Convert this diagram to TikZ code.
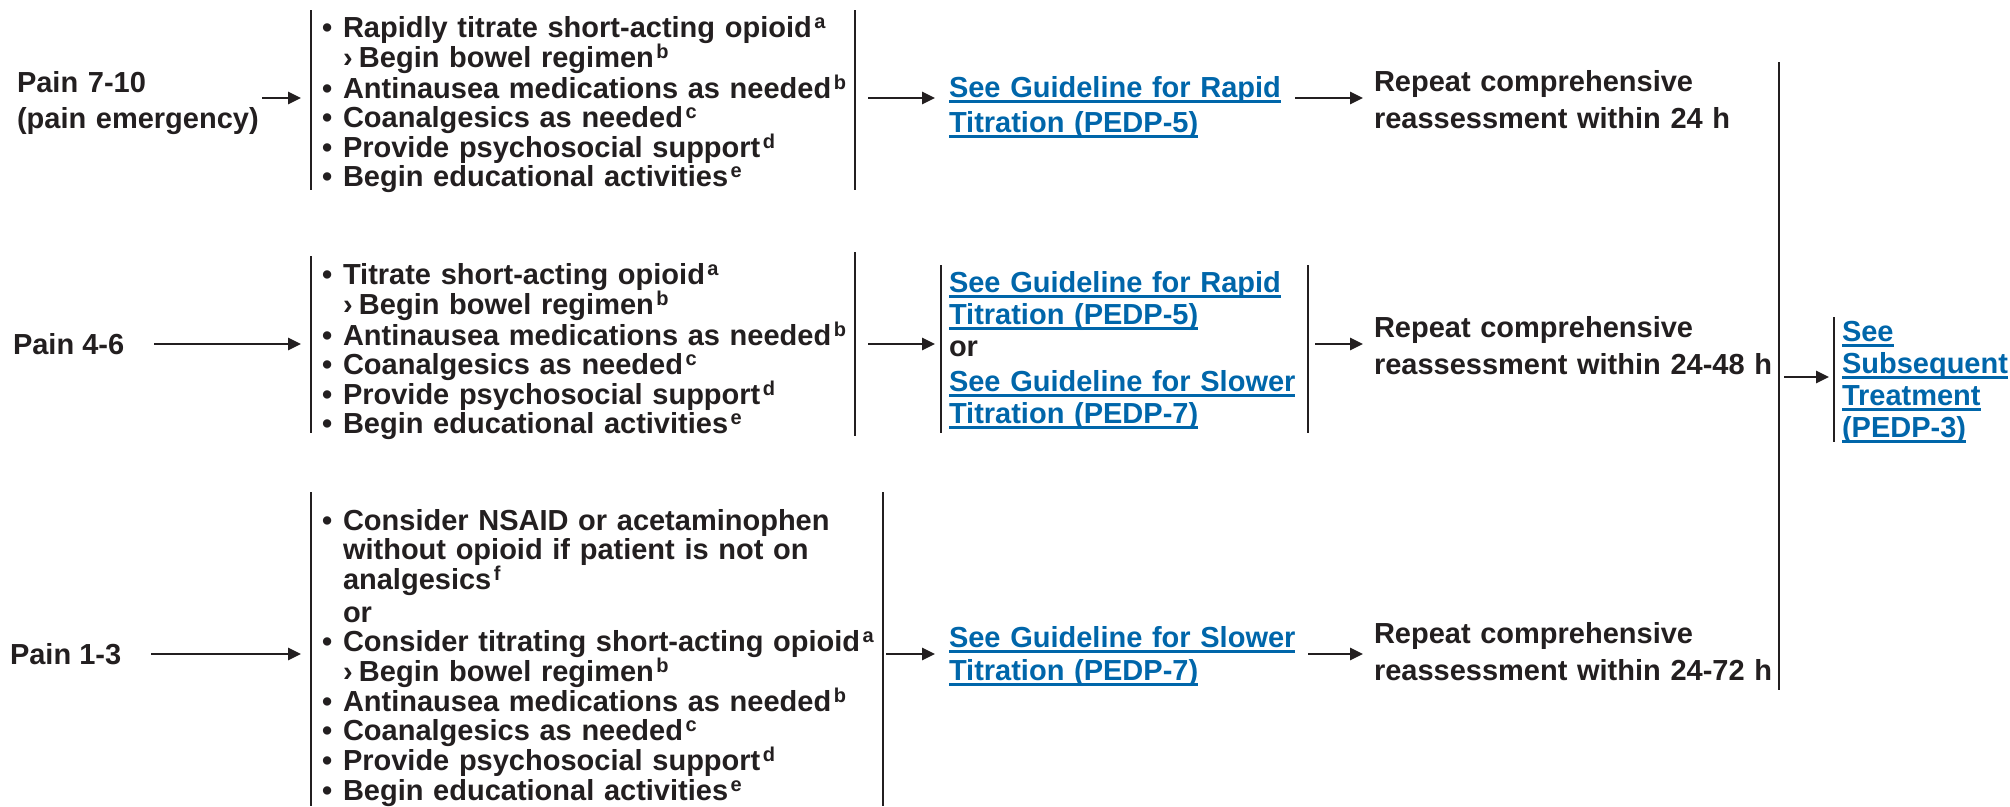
\documentclass[tikz,border=0pt]{standalone}
\usepackage{fontspec}
\setmainfont{Liberation Sans}
\usetikzlibrary{arrows.meta}
\definecolor{txt}{HTML}{231F20}
\definecolor{lnkc}{HTML}{0066AA}
\setlength\lineskiplimit{-100pt}
\newsavebox\lnkbox
\newcommand\fnm[1]{\kern2.5pt\raisebox{9pt}{\fontsize{20}{20}\selectfont #1}}
\newcommand\bul{\makebox[21pt][l]{•}}
\newcommand\ind{\makebox[21pt][l]{}}
\newcommand\subi{\makebox[21pt][l]{}\makebox[16pt][l]{›}}
\newcommand\lnk[1]{\leavevmode\sbox\lnkbox{\color{lnkc}#1}\rlap{\color{lnkc}\rule[-5.5pt]{\wd\lnkbox}{2.4pt}}\usebox\lnkbox}
\tikzset{
  every node/.style={inner sep=0pt, outer sep=0pt, text=txt},
  lbl/.style={anchor=base west, align=left, text width=#1, font=\fontsize{29}{37.5}\selectfont\bfseries},
  lblone/.style={anchor=base west, font=\fontsize{29}{37}\selectfont\bfseries},
  blk/.style={anchor=base west, align=left, text width=#1, font=\fontsize{29}{29}\selectfont\bfseries},
  lk/.style={anchor=base west, align=left, text width=#1, font=\fontsize{29}{32}\selectfont\bfseries},
  arr/.style={-{Triangle[length=13pt,width=12pt]}, line width=2.6pt, draw=txt},
  brk/.style={line width=2pt, draw=txt},
}
\begin{document}
\begin{tikzpicture}[x=1pt,y=-1pt]
\useasboundingbox (0,0) rectangle (2010,806);

% ---- Row 1
\node[lbl=260pt, font=\fontsize{29}{36}\selectfont\bfseries] (p1) at (17,92) {Pain 7-10\\(pain emergency)};
\node[blk=540pt] (b1) at (322,37) {\bul Rapidly titrate short-acting opioid\fnm{a}\\
\subi Begin bowel regimen\fnm{b}\\
\bul Antinausea medications as needed\fnm{b}\\
\bul Coanalgesics as needed\fnm{c}\\
\bul Provide psychosocial support\fnm{d}\\
\bul Begin educational activities\fnm{e}};
\node[lk=360pt, font=\fontsize{29}{35}\selectfont\bfseries] (g1) at (949,97) {\lnk{See Guideline for Rapid}\\\lnk{Titration (PEDP-5)}};
\node[lbl=420pt] (r1) at (1374,91) {Repeat comprehensive\\reassessment within 24 h};
\coordinate (L1t) at (311,10); \coordinate (L1b) at (311,190);
\coordinate (R1t) at (855,10); \coordinate (R1b) at (855,190);
\draw[brk] (L1t) -- (L1b);
\draw[brk] (R1t) -- (R1b);
\coordinate (L1) at (311,98);
\coordinate (R1) at (855,98);
\draw[arr] ([xshift=-15pt]p1.east |- L1) -- ([xshift=-10pt]L1);
\draw[arr] ([xshift=13pt]R1) -- ([xshift=-14pt]g1.west |- R1);
\draw[arr] (1295,98) -- ([xshift=-11pt]r1.west |- R1);

% ---- Row 2
\node[lblone] (p2) at (13,354) {Pain 4-6};
\node[blk=540pt] (b2) at (322,284) {\bul Titrate short-acting opioid\fnm{a}\\
\subi Begin bowel regimen\fnm{b}\\
\bul Antinausea medications as needed\fnm{b}\\
\bul Coanalgesics as needed\fnm{c}\\
\bul Provide psychosocial support\fnm{d}\\
\bul Begin educational activities\fnm{e}};
\node[lk=360pt] (g2) at (949,292) {\lnk{See Guideline for Rapid}\\\lnk{Titration (PEDP-5)}\\or\\[3pt]\lnk{See Guideline for Slower}\\\lnk{Titration (PEDP-7)}};
\node[lbl=420pt] (r2) at (1374,337) {Repeat comprehensive\\reassessment within 24-48 h};
\draw[brk] (311,256) -- (311,433);
\draw[brk] (855,252) -- (855,436);
\draw[brk] (941,265) -- (941,433);
\draw[brk] (1308,265) -- (1308,433);
\coordinate (L2) at (311,344);
\draw[arr] ([xshift=30pt]p2.east |- L2) -- ([xshift=-10pt]L2);
\draw[arr] (868,344) -- (935,344);
\draw[arr] (1315,344) -- ([xshift=-11pt]r2.west |- L2);

% ---- Row 3
\node[lblone] (p3) at (10,664) {Pain 1-3};
\node[blk=560pt, font=\fontsize{29}{29.7}\selectfont\bfseries] (b3) at (322,530) {\bul Consider NSAID or acetaminophen\\
\ind without opioid if patient is not on\\
\ind analgesics\fnm{f}\\[3pt]
\ind or\\
\bul Consider titrating short-acting opioid\fnm{a}\\
\subi Begin bowel regimen\fnm{b}\\
\bul Antinausea medications as needed\fnm{b}\\
\bul Coanalgesics as needed\fnm{c}\\
\bul Provide psychosocial support\fnm{d}\\
\bul Begin educational activities\fnm{e}};
\node[lk=360pt, font=\fontsize{29}{33}\selectfont\bfseries] (g3) at (949,647) {\lnk{See Guideline for Slower}\\\lnk{Titration (PEDP-7)}};
\node[lbl=420pt] (r3) at (1374,643) {Repeat comprehensive\\reassessment within 24-72 h};
\draw[brk] (311,492) -- (311,806);
\draw[brk] (883,492) -- (883,806);
\coordinate (L3) at (311,654);
\draw[arr] ([xshift=30pt]p3.east |- L3) -- ([xshift=-10pt]L3);
\draw[arr] (886,654) -- ([xshift=-14pt]g3.west |- L3);
\draw[arr] (1308,654) -- ([xshift=-11pt]r3.west |- L3);

% ---- Final
\draw[brk] (1779,62) -- (1779,690);
\draw[brk] (1834,317) -- (1834,442);
\node[lk=200pt, font=\fontsize{29}{32}\selectfont\bfseries] (s) at (1842,341) {\lnk{See}\\\lnk{Subsequent}\\\lnk{Treatment}\\\lnk{(PEDP-3)}};
\draw[arr] (1784,377) -- (1829,377);
\end{tikzpicture}
\end{document}
